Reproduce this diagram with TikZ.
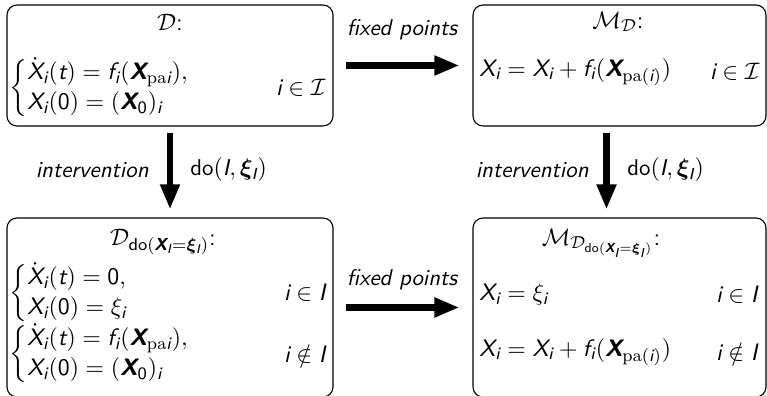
\documentclass[tikz,border=0pt]{standalone}
\usepackage{amsmath}
\usepackage{bm}
\usetikzlibrary{arrows.meta,calc,fit}
\renewcommand{\familydefault}{\sfdefault}
\DeclareSymbolFont{sfup}{TU}{lmss}{m}{n}
\DeclareSymbolFont{sfsl}{TU}{lmss}{m}{sl}
\DeclareMathAlphabet{\mathbsl}{TU}{lmss}{bx}{sl}
\DeclareMathAlphabet{\mathser}{OT1}{cmr}{m}{n}
\DeclareMathAlphabet{\mathsfup}{TU}{lmss}{m}{n}
\DeclareMathSymbol{X}{\mathalpha}{sfsl}{`X}
\DeclareMathSymbol{I}{\mathalpha}{sfsl}{`I}
\DeclareMathSymbol{i}{\mathalpha}{sfsl}{`i}
\DeclareMathSymbol{t}{\mathalpha}{sfsl}{`t}
\DeclareMathSymbol{f}{\mathalpha}{sfsl}{`f}
\DeclareMathSymbol{0}{\mathalpha}{sfup}{`0}
\newcommand{\bX}{\mathbsl{X}}
\newcommand{\doI}{\mathsfup{do}(\bX_I=\bm{\xi}_I)}
\newcommand{\mycases}[1]{\renewcommand{\arraystretch}{1.02}\left\{\begin{array}{@{}l@{}}#1\end{array}\right.}
\tikzset{
  box/.style={draw, line width=0.5pt, rounded corners=4.6pt, inner sep=0pt},
  bigarrow/.style={line width=2.8pt, -{Triangle[length=11.5pt,width=8.5pt]}},
  lbl/.style={font=\fontsize{10.5}{12.6}\selectfont\itshape, inner sep=0pt},
  lblm/.style={font=\fontsize{10.5}{12.6}\selectfont, inner sep=0pt},
  txt/.style={font=\fontsize{10.95}{13.6}\selectfont, inner sep=0pt}
}
\begin{document}
\begin{tikzpicture}[x=0.46pt, y=-0.46pt]
\useasboundingbox (0,0) rectangle (767,396);
% boxes
\node[box, fit={(7,5) (333,126)}] (tl) {};
\node[box, fit={(473,5) (766,126)}] (tr) {};
\node[box, fit={(7,218) (333,397)}] (bl) {};
\node[box, fit={(473,218) (766,397)}] (br) {};
% top-left content
\node[txt] (tltitle) at (170,22) {$\mathcal{D}$:};
\node[txt, anchor=west] (tleq) at (9,88) {$\mycases{\dot{X}_i(t) = f_i(\bX_{\mathser{pa}i}),\\ X_i(0) = (\bX_0)_i}$};
\node[txt, anchor=east] (tlidx) at (326,88) {$i\in\mathcal{I}$};
% top-right content
\node[txt] (trtitle) at (618,22) {$\mathcal{M}_{\mathcal{D}}$:};
\node[txt, anchor=west] (treq) at (479,72) {$X_i = X_i + f_i(\bX_{\mathser{pa}(i)})$};
\node[txt, anchor=east] (tridx) at (760,72) {$i\in\mathcal{I}$};
% bottom-left content
\node[txt] (bltitle) at (163,242) {$\mathcal{D}_{\doI}$:};
\node[txt, anchor=west] (bleqa) at (9,293) {$\mycases{\dot{X}_i(t) = 0,\\ X_i(0) = \xi_i}$};
\node[txt, anchor=east] (blidxa) at (326,293) {$i\in I$};
\node[txt, anchor=west] (bleqb) at (9,354) {$\mycases{\dot{X}_i(t) = f_i(\bX_{\mathser{pa}i}),\\ X_i(0) = (\bX_0)_i}$};
\node[txt, anchor=east] (blidxb) at (326,354) {$i\notin I$};
% bottom-right content
\node[txt] (brtitle) at (601,243) {$\mathcal{M}_{\mathcal{D}_{\doI}}$:};
\node[txt, anchor=west] (breqa) at (479,295) {$X_i = \xi_i$};
\node[txt, anchor=east] (bridxa) at (758,295) {$i\in I$};
\node[txt, anchor=west] (breqb) at (479,352) {$X_i = X_i + f_i(\bX_{\mathser{pa}(i)})$};
\node[txt, anchor=east] (bridxb) at (758,352) {$i\notin I$};
% arrows
\draw[bigarrow] ($(tl.east)+(12,0)$) -- ($(tr.west)+(-13,0)$);
\draw[bigarrow] ($(bl.east)+(12,0)$) -- ($(br.west)+(-13,0)$);
\draw[bigarrow] ($(tl.south)+(0,6)$) -- ($(bl.north)+(0,-8)$);
\draw[bigarrow] ($(tr.south)+(-13,6)$) -- ($(br.north)+(-13,-8)$);
% labels
\node[lbl] (fp1) at (402,30) {fixed points};
\node[lbl] (fp2) at (402,280) {fixed points};
\node[lbl, anchor=east] (iv1) at (149,170) {intervention};
\node[lblm, anchor=west] (do1) at (190,170) {$\mathsfup{do}(I,\bm{\xi}_I)$};
\node[lbl, anchor=east] (iv2) at (589,170) {intervention};
\node[lblm, anchor=west] (do2) at (627,170) {$\mathsfup{do}(I,\bm{\xi}_I)$};
\end{tikzpicture}
\end{document}
